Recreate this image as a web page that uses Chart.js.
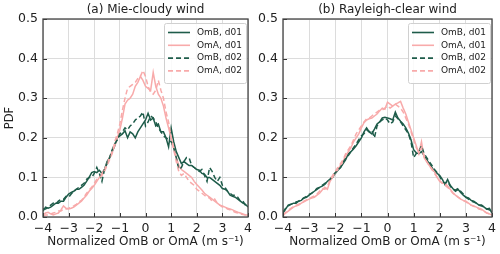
<!DOCTYPE html>
<html>
<head>
<meta charset="utf-8">
<script src="https://cdn.jsdelivr.net/npm/chart.js@4.4.0/dist/chart.umd.min.js"></script>
<style>
  html, body { margin: 0; padding: 0; background: #fff; }
  #wrap { position: relative; width: 500px; height: 254px; }
  canvas { position: absolute; top: 0; }
</style>
</head>
<body>
<div id="wrap">
  <canvas id="mie" width="256" height="254" style="left:0"></canvas>
  <canvas id="ray" width="250" height="254" style="left:250px"></canvas>
</div>
<script>
// bin centres (m s-1, normalized)
const xBins = [
  -4.0, -3.9, -3.8, -3.7, -3.6, -3.5, -3.4, -3.3, -3.2, -3.1,
  -3.0, -2.9, -2.8, -2.7, -2.6, -2.5, -2.4, -2.3, -2.2, -2.1,
  -2.0, -1.9, -1.8, -1.7, -1.6, -1.5, -1.4, -1.3, -1.2, -1.1,
  -1.0, -0.9, -0.8, -0.7, -0.6, -0.5, -0.4, -0.3, -0.2, -0.1,
  0.0,
  0.1, 0.2, 0.3, 0.4, 0.5, 0.6, 0.7, 0.8, 0.9, 1.0,
  1.1, 1.2, 1.3, 1.4, 1.5, 1.6, 1.7, 1.8, 1.9, 2.0,
  2.1, 2.2, 2.3, 2.4, 2.5, 2.6, 2.7, 2.8, 2.9, 3.0,
  3.1, 3.2, 3.3, 3.4, 3.5, 3.6, 3.7, 3.8, 3.9, 4.0
];

// (a) Mie-cloudy wind
const mieOmB01 = [
  0.015, 0.025, 0.022, 0.025, 0.03, 0.035, 0.035, 0.04, 0.04, 0.05,
  0.058, 0.062, 0.065, 0.07, 0.07, 0.075, 0.08, 0.09, 0.1, 0.112,
  0.115, 0.112, 0.118, 0.11, 0.12, 0.14, 0.15, 0.165, 0.18, 0.2,
  0.205, 0.21, 0.218, 0.2, 0.215, 0.21, 0.2, 0.215, 0.225, 0.235,
  0.245,
  0.262, 0.245, 0.25, 0.23, 0.235, 0.215, 0.215, 0.2, 0.177, 0.225,
  0.19, 0.165, 0.15, 0.135, 0.14, 0.135, 0.13, 0.13, 0.125, 0.12,
  0.118, 0.11, 0.108, 0.1, 0.1, 0.095, 0.09, 0.085, 0.08, 0.072,
  0.07, 0.065, 0.055, 0.052, 0.05, 0.045, 0.04, 0.035, 0.032, 0.025
];
const mieOmA01 = [
  0.005, 0.01, 0.012, 0.008, 0.005, 0.008, 0.01, 0.018, 0.028, 0.022,
  0.02, 0.022, 0.025, 0.03, 0.035, 0.04, 0.048, 0.055, 0.065, 0.072,
  0.08, 0.09, 0.1, 0.11, 0.12, 0.135, 0.15, 0.165, 0.18, 0.2,
  0.22, 0.25, 0.285, 0.295, 0.3, 0.31, 0.33, 0.34, 0.355, 0.345,
  0.33,
  0.325, 0.32, 0.365, 0.33, 0.31, 0.3, 0.28, 0.25, 0.225, 0.2,
  0.175, 0.15, 0.13, 0.12, 0.115, 0.11, 0.105, 0.1, 0.09, 0.082,
  0.075, 0.068, 0.06, 0.055, 0.05, 0.045, 0.04, 0.035, 0.03, 0.028,
  0.025, 0.022, 0.02, 0.018, 0.015, 0.012, 0.01, 0.008, 0.005, 0.005
];
const mieOmB02 = [
  0.02, 0.02, 0.025, 0.03, 0.035, 0.033, 0.04, 0.045, 0.045, 0.052,
  0.05, 0.058, 0.065, 0.07, 0.075, 0.08, 0.085, 0.095, 0.1, 0.1,
  0.11, 0.125, 0.11, 0.09, 0.12, 0.135, 0.15, 0.17, 0.185, 0.195,
  0.21, 0.215, 0.225, 0.22, 0.23, 0.235, 0.245, 0.25, 0.255, 0.265,
  0.23,
  0.24, 0.255, 0.25, 0.24, 0.225, 0.215, 0.205, 0.2, 0.195, 0.19,
  0.175, 0.15, 0.12, 0.125, 0.14, 0.15, 0.15, 0.13, 0.125, 0.12,
  0.115, 0.12, 0.105, 0.09, 0.125, 0.115, 0.1, 0.09, 0.1, 0.08,
  0.075, 0.065, 0.06, 0.055, 0.055, 0.05, 0.04, 0.04, 0.03, 0.025
];
const mieOmA02 = [
  0.003, 0.005, 0.005, 0.008, 0.01, 0.012, 0.015, 0.015, 0.02, 0.02,
  0.022, 0.025, 0.028, 0.032, 0.038, 0.042, 0.05, 0.06, 0.068, 0.075,
  0.085, 0.095, 0.1, 0.105, 0.115, 0.13, 0.145, 0.16, 0.19, 0.21,
  0.235, 0.27, 0.3, 0.325, 0.33, 0.335, 0.34, 0.35, 0.355, 0.37,
  0.355,
  0.33, 0.315, 0.31, 0.32, 0.345, 0.32, 0.3, 0.265, 0.24, 0.2,
  0.17, 0.14, 0.115, 0.105, 0.11, 0.1, 0.09, 0.085, 0.08, 0.07,
  0.065, 0.06, 0.055, 0.05, 0.048, 0.04, 0.045, 0.035, 0.03, 0.025,
  0.025, 0.02, 0.018, 0.015, 0.012, 0.01, 0.008, 0.006, 0.005, 0.004
];

// (b) Rayleigh-clear wind
const rayOmB01 = [
  0.01, 0.02, 0.03, 0.032, 0.035, 0.035, 0.04, 0.042, 0.048, 0.05,
  0.055, 0.06, 0.065, 0.07, 0.075, 0.078, 0.082, 0.09, 0.095, 0.1,
  0.11, 0.118, 0.125, 0.135, 0.145, 0.16, 0.165, 0.172, 0.18, 0.19,
  0.2, 0.215, 0.225, 0.215, 0.21, 0.222, 0.235, 0.24, 0.25, 0.252,
  0.25,
  0.248, 0.245, 0.265, 0.25, 0.242, 0.235, 0.225, 0.212, 0.195, 0.17,
  0.162, 0.16, 0.165, 0.155, 0.145, 0.135, 0.125, 0.115, 0.11, 0.105,
  0.095, 0.082, 0.095, 0.08, 0.072, 0.065, 0.07, 0.062, 0.055, 0.05,
  0.048, 0.042, 0.04, 0.035, 0.03, 0.03, 0.025, 0.02, 0.022, 0.01
];
const rayOmA01 = [
  0.003, 0.01, 0.015, 0.02, 0.025, 0.028, 0.03, 0.035, 0.038, 0.042,
  0.045, 0.048, 0.05, 0.055, 0.06, 0.068, 0.075, 0.07, 0.09, 0.1,
  0.112, 0.12, 0.13, 0.14, 0.155, 0.165, 0.175, 0.19, 0.2, 0.21,
  0.225, 0.238, 0.245, 0.248, 0.25, 0.255, 0.26, 0.268, 0.275, 0.272,
  0.29,
  0.285, 0.28, 0.285, 0.288, 0.292, 0.275, 0.26, 0.24, 0.22, 0.2,
  0.18, 0.16, 0.19, 0.15, 0.14, 0.13, 0.122, 0.115, 0.1, 0.09,
  0.085, 0.085, 0.078, 0.07, 0.062, 0.055, 0.05, 0.045, 0.042, 0.04,
  0.035, 0.03, 0.028, 0.025, 0.022, 0.02, 0.015, 0.01, 0.008, 0.005
];
const rayOmB02 = [
  0.012, 0.022, 0.028, 0.032, 0.034, 0.038, 0.04, 0.045, 0.048, 0.052,
  0.057, 0.06, 0.066, 0.072, 0.075, 0.08, 0.085, 0.088, 0.095, 0.105,
  0.112, 0.12, 0.125, 0.138, 0.148, 0.155, 0.165, 0.175, 0.185, 0.195,
  0.205, 0.21, 0.22, 0.215, 0.22, 0.2, 0.23, 0.24, 0.245, 0.25,
  0.245,
  0.235, 0.24, 0.255, 0.248, 0.24, 0.23, 0.22, 0.21, 0.19, 0.15,
  0.16, 0.165, 0.18, 0.16, 0.15, 0.14, 0.13, 0.12, 0.112, 0.102,
  0.09, 0.085, 0.09, 0.078, 0.07, 0.068, 0.072, 0.065, 0.058, 0.05,
  0.045, 0.04, 0.038, 0.035, 0.03, 0.028, 0.025, 0.02, 0.018, 0.015
];
const rayOmA02 = [
  0.005, 0.012, 0.017, 0.022, 0.026, 0.03, 0.032, 0.036, 0.04, 0.043,
  0.046, 0.05, 0.053, 0.058, 0.065, 0.072, 0.07, 0.075, 0.095, 0.105,
  0.115, 0.125, 0.135, 0.145, 0.16, 0.17, 0.18, 0.195, 0.21, 0.22,
  0.23, 0.24, 0.248, 0.25, 0.255, 0.26, 0.265, 0.27, 0.27, 0.275,
  0.28,
  0.275, 0.28, 0.285, 0.28, 0.275, 0.265, 0.25, 0.235, 0.215, 0.195,
  0.175, 0.165, 0.175, 0.155, 0.14, 0.13, 0.12, 0.11, 0.1, 0.092,
  0.085, 0.08, 0.075, 0.068, 0.06, 0.055, 0.05, 0.046, 0.042, 0.038,
  0.034, 0.03, 0.027, 0.024, 0.02, 0.018, 0.014, 0.01, 0.008, 0.006
];

const seriesLabels = ['OmB, d01', 'OmA, d01', 'OmB, d02', 'OmA, d02'];
const xTicks = [-4, -3, -2, -1, 0, 1, 2, 3, 4];
const yTicks = [0.0, 0.1, 0.2, 0.3, 0.4, 0.5];

const GREEN = '#1e5c4a';
const PINK = '#f8aaaa';
const FONT = '"DejaVu Sans", sans-serif';
const DASH = [5, 3];

function line(label, ys, color, dash, order) {
  return {
    label: label,
    data: xBins.map((x, i) => ({ x: x, y: ys[i] })),
    borderColor: color,
    backgroundColor: color,
    borderWidth: 1.5,
    borderDash: dash,
    pointRadius: 0,
    tension: 0,
    fill: false,
    order: order
  };
}

// frame, inward ticks, panel title and legend
const framePlugin = {
  id: 'frame',
  afterDraw(chart, args, opts) {
    const ctx = chart.ctx;
    const a = chart.chartArea;
    const sx = chart.scales.x, sy = chart.scales.y;
    ctx.save();
    ctx.strokeStyle = '#333';
    ctx.lineWidth = 1;
    ctx.beginPath();
    sx.ticks.forEach(t => {
      const px = Math.round(sx.getPixelForValue(t.value)) + 0.5;
      ctx.moveTo(px, a.bottom); ctx.lineTo(px, a.bottom - 4);
    });
    sy.ticks.forEach(t => {
      const py = Math.round(sy.getPixelForValue(t.value)) + 0.5;
      ctx.moveTo(a.left, py); ctx.lineTo(a.left + 4, py);
    });
    ctx.stroke();
    ctx.strokeStyle = '#444';
    ctx.lineWidth = 1.3;
    ctx.strokeRect(a.left, a.top, a.right - a.left, a.bottom - a.top);

    ctx.fillStyle = '#222';
    ctx.font = '12px ' + FONT;
    ctx.textAlign = 'center';
    ctx.textBaseline = 'middle';
    ctx.fillText(opts.text, (a.left + a.right) / 2, 10);

    // legend box
    const bw = 82, bh = 60;
    const bx = a.right - bw - 2, by = a.top + 4;
    ctx.fillStyle = 'rgba(255,255,255,0.85)';
    ctx.strokeStyle = '#d0d0d0';
    ctx.lineWidth = 1;
    ctx.beginPath();
    ctx.roundRect(bx + 0.5, by + 0.5, bw, bh, 2);
    ctx.fill();
    ctx.stroke();
    ctx.font = '9px ' + FONT;
    ctx.textAlign = 'left';
    const ordered = chart.data.datasets.slice().sort((p, q) => q.order - p.order);
    ordered.forEach((ds, i) => {
      const ry = by + 9.5 + i * 12.8;
      ctx.strokeStyle = ds.borderColor;
      ctx.lineWidth = 1.6;
      ctx.setLineDash(ds.borderDash);
      ctx.beginPath();
      ctx.moveTo(bx + 4, ry); ctx.lineTo(bx + 26, ry);
      ctx.stroke();
      ctx.setLineDash([]);
      ctx.fillStyle = '#222';
      ctx.fillText(ds.label, bx + 33, ry);
    });
    ctx.restore();
  }
};

function panel(id, title, s, yTitle, yWidth, padRight) {
  new Chart(document.getElementById(id), {
    type: 'line',
    data: {
      datasets: [
        line(seriesLabels[0], s[0], GREEN, [], 4),
        line(seriesLabels[1], s[1], PINK, [], 3),
        line(seriesLabels[2], s[2], GREEN, DASH, 2),
        line(seriesLabels[3], s[3], PINK, DASH, 1)
      ]
    },
    options: {
      responsive: false,
      animation: false,
      layout: { padding: { top: 19, right: padRight, left: 0, bottom: 0 } },
      plugins: {
        legend: { display: false },
        title: { display: false },
        tooltip: { enabled: false },
        frame: { text: title }
      },
      scales: {
        x: {
          type: 'linear',
          min: -4, max: 4,
          afterBuildTicks: sc => { sc.ticks = xTicks.map(v => ({ value: v })); },
          ticks: {
            font: { family: FONT, size: 12.5 },
            color: '#222',
            padding: 4,
            maxRotation: 0,
            callback: v => v < 0 ? '\u2212' + Math.abs(v) : String(v)
          },
          grid: { color: '#dcdcdc', lineWidth: 1, drawTicks: false },
          border: { display: false },
          title: {
            display: true,
            text: 'Normalized OmB or OmA (m s\u207B\u00B9)',
            font: { family: FONT, size: 12 },
            color: '#222',
            padding: { top: 0, bottom: 5 }
          },
          afterFit: sc => { sc.height = 37; }
        },
        y: {
          min: 0, max: 0.5,
          afterBuildTicks: sc => { sc.ticks = yTicks.map(v => ({ value: v })); },
          ticks: {
            font: { family: FONT, size: 12.5 },
            color: '#222',
            padding: 5,
            callback: v => v.toFixed(1)
          },
          grid: { color: '#dcdcdc', lineWidth: 1, drawTicks: false },
          border: { display: false },
          title: {
            display: yTitle !== '',
            text: yTitle,
            font: { family: FONT, size: 11.5 },
            color: '#222',
            padding: { top: 3, bottom: 0 }
          },
          afterFit: sc => { sc.width = yWidth; }
        }
      }
    },
    plugins: [framePlugin]
  });
}

panel('mie', '(a) Mie-cloudy wind', [mieOmB01, mieOmA01, mieOmB02, mieOmA02], 'PDF', 43, 6);
panel('ray', '(b) Rayleigh-clear wind', [rayOmB01, rayOmA01, rayOmB02, rayOmA02], '', 33, 8);
</script>
</body>
</html>
